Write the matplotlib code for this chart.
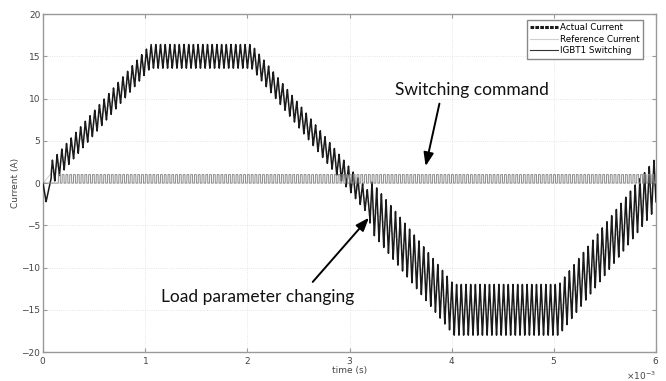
import numpy as np
import matplotlib
matplotlib.use('Agg')
import matplotlib.pyplot as plt
from matplotlib.lines import Line2D
from matplotlib.ticker import ScalarFormatter

# reference current: trapezoid breakpoints (s, A)
ref_t = [0.0, 1.05e-3, 2.04e-3, 4.02e-3, 5.05e-3, 6.0e-3]
ref_i = [0.0, 15.0, 15.0, -15.0, -15.0, 0.0]

# ripple of actual current (half amplitude in A), changes when load changes
ripple_edges = [0.0, 3.2e-3, 6.0e-3]
ripple_amp = [1.4, 3.0]
ripple_period = 4.6e-5

# start transient of the actual current (s, A)
start_t = [0.0, 0.03e-3, 0.08e-3]
start_i = [0.0, -2.2, 0.6]

# IGBT1 switching command
sw_start = 0.15e-3
sw_period = 3.7e-5
sw_level = [0.0, 1.0]

fig, ax = plt.subplots(figsize=(6.66, 3.81), dpi=100)
fig.subplots_adjust(left=0.0646, right=0.985, bottom=0.076, top=0.963)

t = np.linspace(0, 6e-3, 24001)
i_ref = np.interp(t, ref_t, ref_i)

# triangle ripple around reference
phase = (t / ripple_period) % 1.0
tri = 4 * np.abs(phase - 0.5) - 1.0
amp = np.where(t < ripple_edges[1], ripple_amp[0], ripple_amp[1])
i_act = i_ref + amp * tri
m = t < start_t[-1]
i_act[m] = np.interp(t[m], start_t, start_i)

sw = np.where(t < sw_start, sw_level[0],
              np.where(((t - sw_start) / sw_period) % 1.0 < 0.5, sw_level[1], sw_level[0]))

ax.plot(t, i_ref, color='#c8c8c8', lw=0.6, zorder=2)
ax.plot(t, i_act, color='#1a1a1a', lw=1.1, zorder=3)
ax.plot(t, sw, color='#8a8a8a', lw=0.7, zorder=5)

ax.set_xlim(0, 6e-3)
ax.set_ylim(-20, 20)
ax.set_xticks(np.arange(0, 6.01e-3, 1e-3))
ax.set_yticks(np.arange(-20, 21, 5))
fmt = ScalarFormatter(useMathText=True)
fmt.set_powerlimits((-2, 2))
ax.xaxis.set_major_formatter(fmt)
ax.xaxis.get_offset_text().set_fontsize(6.5)
ax.xaxis.get_offset_text().set_color('#444444')
ax.tick_params(direction='in', top=True, right=True, labelsize=6.5,
               colors='#999999', labelcolor='#444444', length=3, width=0.8, pad=2)
for s in ax.spines.values():
    s.set_color('#999999')
    s.set_linewidth(1.0)
ax.grid(True, ls=':', color='#dddddd', lw=0.6)

ax.set_xlabel('time (s)', fontsize=6.5, color='#444444', labelpad=0)
ax.set_ylabel('Current (A)', fontsize=6.5, color='#444444', labelpad=1)

handles = [Line2D([], [], color='#1a1a1a', lw=2.2, ls=(0, (1.2, 0.4))),
           Line2D([], [], color='#cfcfcf', lw=0.8),
           Line2D([], [], color='#333333', lw=0.8)]
ax.legend(handles, ['Actual Current', 'Reference Current', 'IGBT1 Switching'],
          loc='upper right', bbox_to_anchor=(0.979, 0.982), fontsize=6.3,
          fancybox=False, framealpha=1, edgecolor='#888888', borderpad=0.35,
          labelspacing=0.3, handlelength=3.2, handletextpad=0.3, borderaxespad=0)

tfont = dict(family=['Lato', 'DejaVu Sans'], fontsize=12.5, color='#111111')
ax.text(4.2e-3, 11.0, 'Switching command', ha='center', va='center', **tfont)
ax.text(2.1e-3, -13.5, 'Load parameter changing', ha='center', va='center', **tfont)

aprops = dict(arrowstyle='-|>,head_width=0.3,head_length=0.8',
              color='black', lw=1.4, shrinkA=0, shrinkB=0)
ax.annotate('', xy=(3.745e-3, 2.0), xytext=(3.88e-3, 9.4), arrowprops=aprops)
ax.annotate('', xy=(3.19e-3, -4.1), xytext=(2.64e-3, -11.7), arrowprops=aprops)

fig.savefig('out.png', dpi=100, facecolor='white')
